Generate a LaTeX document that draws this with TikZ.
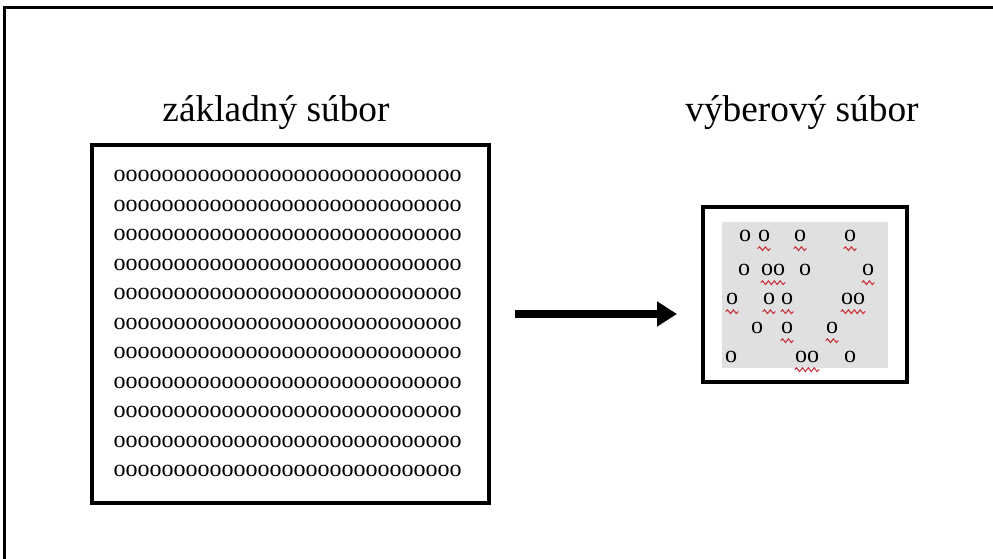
\documentclass[tikz,border=0pt]{standalone}
\usepackage{fontspec}
\setmainfont{Liberation Serif}
\usetikzlibrary{arrows.meta,decorations.pathmorphing}
\definecolor{panelgray}{HTML}{E0E0E0}
\definecolor{spellred}{HTML}{C8323C}
\begin{document}
\begin{tikzpicture}[x=0.75pt,y=-0.75pt,
  heading/.style={font=\fontsize{28}{28}\selectfont, inner sep=0pt, anchor=base},
  dotrow/.style={font=\fontsize{18}{18}\selectfont, inner sep=0pt, anchor=base},
  dot/.style={font=\fontsize{18}{18}\selectfont, inner sep=0pt, anchor=center},
  squiggle/.style={spellred, line width=0.8pt, decorate,
    decoration={snake, amplitude=1.4pt, segment length=4.4pt}}]
\useasboundingbox (0,0) rectangle (993,559);
\clip (0,0) rectangle (993,559);

% outer frame, open towards the right and bottom
\draw[line width=1.8pt] (4.5,580) -- (4.5,7.5) -- (1010,7.5);

% headings
\node[heading] (popt) at (276,122) {základný súbor};
\node[heading] (smpt) at (802,122) {výberový súbor};

% population box
\node[draw, line width=2.4pt, minimum width=297.75pt, minimum height=268.5pt,
      inner sep=0pt] (popbox) at (290.5,324) {};
\foreach \i in {0,...,10}
  \node[dotrow] (row\i) at (287.5,{182+29.5*\i}) {ooooooooooooooooooooooooooooo};

% arrow
\coordinate (a1) at (515,314);
\coordinate (a2) at (677,314);
\draw[line width=5.6pt, -{Triangle[length=15pt,width=18pt]}] (a1) -- (a2);

% sample box
\node[draw, line width=2.4pt, minimum width=153pt, minimum height=131.25pt,
      inner sep=0pt] (smpbox) at (805,294.5) {};
\node[fill=panelgray, minimum width=124.5pt, minimum height=109.5pt,
      inner sep=0pt] (smpbg) at (805,295) {};

% sampled elements
\node[dot] (s11) at (745,236) {o};
\node[dot] (s12) at (764,236) {o};
\node[dot] (s13) at (800,236) {o};
\node[dot] (s14) at (850,236) {o};
\node[dot] (s21) at (744,270) {o};
\node[dot] (s22) at (773,270) {oo};
\node[dot] (s23) at (805,270) {o};
\node[dot] (s24) at (868,270) {o};
\node[dot] (s31) at (732,299) {o};
\node[dot] (s32) at (769,299) {o};
\node[dot] (s33) at (787,299) {o};
\node[dot] (s34) at (853,299) {oo};
\node[dot] (s41) at (757,328) {o};
\node[dot] (s42) at (787,328) {o};
\node[dot] (s43) at (832,328) {o};
\node[dot] (s51) at (731,357) {o};
\node[dot] (s52) at (807,357) {oo};
\node[dot] (s53) at (850,357) {o};

% wavy underlines
\foreach \n in {s12,s13,s14,s22,s24,s31,s32,s33,s34,s42,s43,s52}
  \draw[squiggle] ([yshift=-5pt]\n.south west) -- ([yshift=-5pt]\n.south east);
\end{tikzpicture}
\end{document}
